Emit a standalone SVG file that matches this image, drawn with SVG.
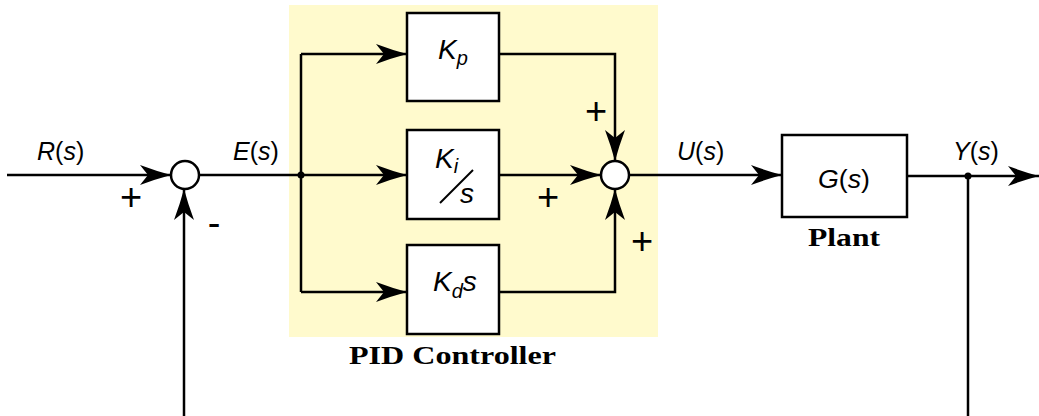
<svg xmlns="http://www.w3.org/2000/svg" width="1039" height="416" viewBox="0 0 1039 416">
<style>
.bg{fill:#fffacd;stroke:none}
.box{fill:#ffffff;stroke:#000;stroke-width:2.5}
.sum{fill:#ffffff;stroke:#000;stroke-width:2.5}
.ln{fill:none;stroke:#000;stroke-width:2.5}
.lbl{font-family:"Liberation Sans",Arial,sans-serif;font-size:25px;fill:#000}
.it{font-style:italic}
.k{font-family:"Liberation Sans",Arial,sans-serif;font-size:28px;font-style:italic;fill:#000}
.sign{font-family:"Liberation Sans",Arial,sans-serif;font-size:38px;fill:#000;text-anchor:middle}
.cap{font-family:"Liberation Serif","Times New Roman",serif;font-weight:bold;fill:#000}
</style>
<defs>
<marker id="ah" viewBox="-32 -11 33 22" refX="0" refY="0" markerWidth="33" markerHeight="22" markerUnits="userSpaceOnUse" orient="auto">
<path d="M0,0 Q-15,-4 -31,-10 L-23,0 L-31,10 Q-15,4 0,0 Z" fill="#000"/>
</marker>
</defs>
<rect id="pid-area" class="bg" x="289" y="5" width="369" height="332"/>
<g id="connectors">
<path class="ln" d="M7,175 H171" marker-end="url(#ah)"/>
<path class="ln" d="M184,416 V189" marker-end="url(#ah)"/>
<path class="ln" d="M199,175 H301"/>
<path class="ln" d="M301,54 V292"/>
<path class="ln" d="M301,54 H407" marker-end="url(#ah)"/>
<path class="ln" d="M301,175 H407" marker-end="url(#ah)"/>
<path class="ln" d="M301,292 H407" marker-end="url(#ah)"/>
<path class="ln" d="M499,54 H615 V161" marker-end="url(#ah)"/>
<path class="ln" d="M499,175 H601" marker-end="url(#ah)"/>
<path class="ln" d="M499,292 H615 V189" marker-end="url(#ah)"/>
<path class="ln" d="M629,175 H782" marker-end="url(#ah)"/>
<path class="ln" d="M907,176 H1039" marker-end="url(#ah)"/>
<path class="ln" d="M968,176 V416"/>
<circle cx="301" cy="175" r="3.5" fill="#000"/>
<circle cx="968" cy="176" r="3.5" fill="#000"/>
</g>
<g id="sum1">
<circle class="sum" cx="185" cy="175" r="14"/>
</g>
<g id="sum2">
<circle class="sum" cx="615" cy="175" r="14"/>
</g>
<g id="kp">
<rect class="box" x="407" y="13" width="92" height="88"/>
<text class="k" x="438" y="59">K<tspan font-size="20" dy="6">p</tspan></text>
</g>
<g id="ki">
<rect class="box" x="407" y="130" width="92" height="89"/>
<text class="k" x="435" y="168">K<tspan font-size="20" dy="5">i</tspan></text>
<line x1="440" y1="203" x2="473" y2="170" stroke="#000" stroke-width="2"/>
<text class="k" x="460" y="203" font-size="24">s</text>
</g>
<g id="kd">
<rect class="box" x="407" y="245" width="92" height="89"/>
<text class="k" x="433" y="291">K<tspan font-size="20" dy="7">d</tspan><tspan dy="-7">s</tspan></text>
</g>
<g id="plant">
<rect class="box" x="782" y="135" width="125" height="82"/>
<text class="lbl" x="818" y="188" textLength="52" lengthAdjust="spacingAndGlyphs"><tspan class="it">G</tspan>(<tspan class="it">s</tspan>)</text>
<text class="cap" x="808" y="246" font-size="25" textLength="72" lengthAdjust="spacingAndGlyphs">Plant</text>
</g>
<g id="labels">
<text class="lbl" x="37" y="160"><tspan class="it">R</tspan>(<tspan class="it">s</tspan>)</text>
<text class="lbl" x="233" y="160"><tspan class="it">E</tspan>(<tspan class="it">s</tspan>)</text>
<text class="lbl" x="677" y="160"><tspan class="it">U</tspan>(<tspan class="it">s</tspan>)</text>
<text class="lbl" x="953" y="160"><tspan class="it">Y</tspan>(<tspan class="it">s</tspan>)</text>
<text class="sign" x="131" y="210">+</text>
<text class="sign" x="214" y="236" font-size="44">-</text>
<text class="sign" x="596" y="124">+</text>
<text class="sign" x="548" y="210">+</text>
<text class="sign" x="642" y="254">+</text>
<text class="cap" x="349" y="364" font-size="26" textLength="207" lengthAdjust="spacingAndGlyphs">PID  Controller</text>
</g>
</svg>
